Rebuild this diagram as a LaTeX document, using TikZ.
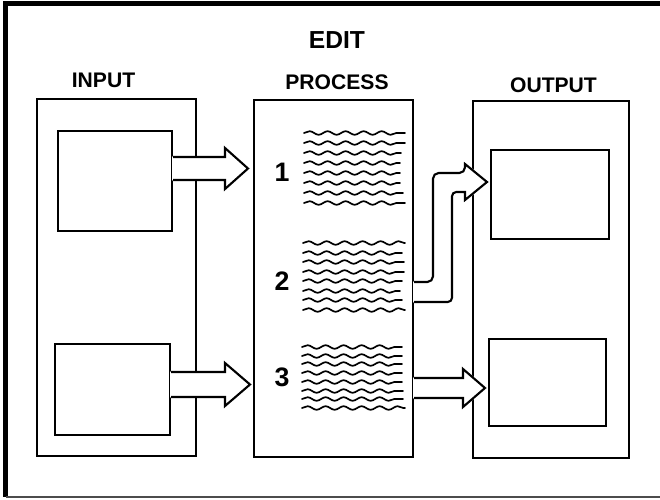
\documentclass[tikz,border=0pt]{standalone}
\usepackage{fontspec}
\setmainfont{Liberation Sans}
\usetikzlibrary{decorations.pathmorphing}
% block arrow: from node, shaft top, shaft bottom, head base x, tip x
\newcommand{\fatarrow}[5]{%
  \path[fill=white, draw=white, line width=1.4pt, line join=bevel]
    (#1.east |- 0,#2) -- (#4,#2) -- (#4,#2-9) -- (#5,{(#2+#3)/2}) -- (#4,#3+9) -- (#4,#3) -- (#1.east |- 0,#3) -- cycle;
  \draw[flow] (#1.east |- 0,#2) -- (#4,#2) -- (#4,#2-9) -- (#5,{(#2+#3)/2}) -- (#4,#3+9) -- (#4,#3) -- (#1.east |- 0,#3);
}

\begin{document}
\begin{tikzpicture}[x=0.025cm, y=-0.025cm,
  box/.style={draw, line width=1.5pt, inner sep=0pt},
  flow/.style={line width=1.5pt, line join=miter},
  wave/.style={line width=1.2pt, line cap=round, decorate,
    decoration={snake, segment length=0.45cm, amplitude=0.045cm}},
  lbl/.style={font=\fontsize{15}{17}\selectfont\bfseries},
  num/.style={font=\fontsize{19}{21}\selectfont\bfseries}]
  \useasboundingbox (0,0) rectangle (660,500);

  % frame
  \draw[line width=3pt] (660,3.5) -- (5.5,3.5) -- (5.5,497);
  \draw[line width=1.2pt, black!70] (5.5,497) -- (660,497);

  % titles
  \node[font=\fontsize{17.5}{20}\selectfont\bfseries] (edit) at (337,40.5) {EDIT};
  \node[lbl] (inlbl) at (103.5,80) {INPUT};
  \node[lbl] (proclbl) at (337,82) {PROCESS};
  \node[lbl] (outlbl) at (553.5,85) {OUTPUT};

  % panels
  \node[box, minimum width=3.975cm, minimum height=8.925cm] (inbox) at (116.5,277.5) {};
  \node[box, minimum width=3.975cm, minimum height=8.925cm] (procbox) at (333.5,278.5) {};
  \node[box, minimum width=3.9cm, minimum height=8.925cm] (outbox) at (551,279.5) {};

  % input and output screens
  \node[box, minimum width=2.85cm, minimum height=2.5cm] (in1) at (115,181) {};
  \node[box, minimum width=2.875cm, minimum height=2.275cm] (in2) at (112.5,389.5) {};
  \node[box, minimum width=2.95cm, minimum height=2.225cm] (out1) at (550,194.5) {};
  \node[box, minimum width=2.925cm, minimum height=2.175cm] (out2) at (547.5,382.5) {};

  % text blocks
  \node[num] (n1) at (282,172) {1};
  \node[num] (n2) at (282,281) {2};
  \node[num] (n3) at (282,377) {3};
  \foreach \y/\e in {133/405,143/405,153/401,163/400,173/400,183/400,193/403,203/405}
    \draw[wave] (304,\y) -- (\e,\y);
  \foreach \y/\e in {243/405,253/402,262/404,272/404,281/402,291/400,300/402,310/405}
    \draw[wave] (303,\y) -- (\e,\y);
  \foreach \y/\e in {347/402,356/402,364/402,373/402,382/402,391/403,399/403,408/405}
    \draw[wave] (302,\y) -- (\e,\y);

  % arrows
  \fatarrow{in1}{157}{180}{225}{248}
  \fatarrow{in2}{372}{397}{225}{250}
  \fatarrow{procbox}{378}{398}{463}{485}
  \path[fill=white, draw=white, line width=1.5pt, line join=bevel]
    (procbox.east |- 0,282) -- (433,282) -- (433,173) -- (465,173) -- (465,164) -- (487,182)
    -- (465,200) -- (465,192) -- (452,192) -- (452,302) -- (procbox.east |- 0,302) -- cycle;
  \draw[flow] (procbox.east |- 0,282) [rounded corners=4pt] -- (433,282) -- (433,173)
    -- (465,173) [sharp corners] -- (465,164) -- (487,182) -- (465,200) -- (465,192)
    [rounded corners=3pt] -- (452,192) -- (452,302) -- (procbox.east |- 0,302);
\end{tikzpicture}
\end{document}
